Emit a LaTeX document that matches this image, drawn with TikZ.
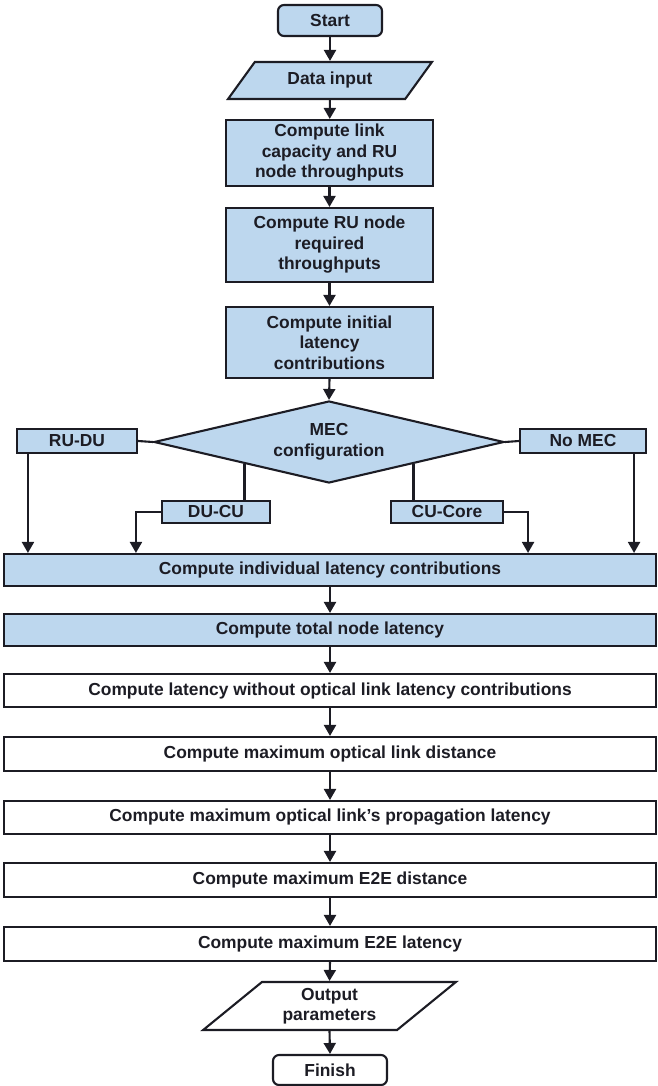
\documentclass[tikz,border=0pt]{standalone}
\usepackage{fontspec}
\setmainfont{Liberation Sans}
\usetikzlibrary{shapes.geometric,arrows.meta,calc}
\definecolor{boxblue}{RGB}{189,215,238}
\definecolor{ink}{RGB}{28,28,36}

\begin{document}
\begin{tikzpicture}[x=1pt,y=-1pt,
  every node/.style={text=ink, font=\fontsize{17.4}{20.5}\selectfont\bfseries},
  base/.style={draw=ink, line width=2.1pt, inner sep=0pt, align=center},
  proc/.style={base, rectangle},
  term/.style={base, rectangle, rounded corners=6pt},
  io/.style={base, trapezium, trapezium stretches=true},
  dec/.style={base, diamond, aspect=4.27, fill=boxblue},
  wide/.style={proc, minimum width=652},
  link/.style={draw=ink, line width=2.1pt},
  arr/.style={link, -{Triangle[width=12pt,length=11pt]}}]

\useasboundingbox (0,0) rectangle (658,1086);

% upper column
\node[term, fill=boxblue, minimum width=104, minimum height=31] (start) at (330,20.5) {Start};
\node[io, fill=boxblue, minimum width=204, minimum height=37,
      trapezium left angle=47, trapezium right angle=133] (input) at (330,80.5) {Data input};
\node[proc, fill=boxblue, minimum width=207, minimum height=66] (b1) at (329.5,153)
  {Compute link\\capacity and RU\\node throughputs};
\node[proc, fill=boxblue, minimum width=207, minimum height=74] (b2) at (329.5,245)
  {Compute RU node\\required\\throughputs};
\node[proc, fill=boxblue, minimum width=207, minimum height=71] (b3) at (329.5,342.5)
  {Compute initial\\latency\\contributions};

% MEC configuration decision and its four branches
\node[dec, minimum width=350, minimum height=82] (mec) at (329,442) {MEC\\configuration};
\node[proc, fill=boxblue, minimum width=120, minimum height=24] (rudu) at (77,441) {RU-DU};
\node[proc, fill=boxblue, minimum width=126, minimum height=24] (nomec) at (583,441) {No MEC};
\node[proc, fill=boxblue, minimum width=108, minimum height=22] (ducu) at (216,512) {DU-CU};
\node[proc, fill=boxblue, minimum width=112, minimum height=22] (cucore) at (447,512) {CU-Core};

% full-width steps
\node[wide, fill=boxblue, minimum height=32] (ind) at (330,570) {Compute individual latency contributions};
\node[wide, fill=boxblue, minimum height=32] (tot) at (330,630) {Compute total node latency};
\node[wide, fill=white, minimum height=33] (wo) at (330,690.5) {Compute latency without optical link latency contributions};
\node[wide, fill=white, minimum height=34] (dist) at (330,754) {Compute maximum optical link distance};
\node[wide, fill=white, minimum height=33] (prop) at (330,817.5) {Compute maximum optical link’s propagation latency};
\node[wide, fill=white, minimum height=34] (e2ed) at (330,880) {Compute maximum E2E distance};
\node[wide, fill=white, minimum height=34] (e2el) at (330,944) {Compute maximum E2E latency};

% end of the chart
\node[io, fill=white, minimum width=253, minimum height=48,
      trapezium left angle=41.6, trapezium right angle=138.4] (out) at (329.5,1006) {Output\\parameters};
\node[term, fill=white, minimum width=114, minimum height=30] (fin) at (330,1070) {Finish};

% main flow
\draw[arr] (start) -- (input);
\draw[arr] (input) -- (b1);
\draw[arr] (b1) -- (b2);
\draw[arr] (b2) -- (b3);
\draw[arr] (b3.south) -- (mec.north);
\draw[arr] (ind) -- (tot);
\draw[arr] (tot) -- (wo);
\draw[arr] (wo) -- (dist);
\draw[arr] (dist) -- (prop);
\draw[arr] (prop) -- (e2ed);
\draw[arr] (e2ed) -- (e2el);
\draw[arr] (e2el.south) -- (out.north);
\draw[arr] (out.south) -- (fin.north);

% branches out of the decision
\coordinate (dl) at ($(mec.west)!0.52!(mec.south)$);
\coordinate (dr) at ($(mec.east)!0.52!(mec.south)$);
\draw[link] (mec.west) -- (rudu.east);
\draw[link] (mec.east) -- (nomec.west);
\draw[link] (dl) -- (dl |- ducu.north);
\draw[link] (dr) -- (dr |- cucore.north);

% branches into the latency step
\coordinate (ra) at ($(rudu.south west)+(12,0)$);
\coordinate (na) at ($(nomec.south east)+(-13,0)$);
\coordinate (dc) at ($(ducu.west)+(-25,0)$);
\coordinate (cc) at ($(cucore.east)+(24,0)$);
\draw[arr] (ra) -- (ra |- ind.north);
\draw[arr] (na) -- (na |- ind.north);
\draw[arr] (ducu.west) -- (dc) -- (dc |- ind.north);
\draw[arr] (cucore.east) -- (cc) -- (cc |- ind.north);
\end{tikzpicture}
\end{document}
